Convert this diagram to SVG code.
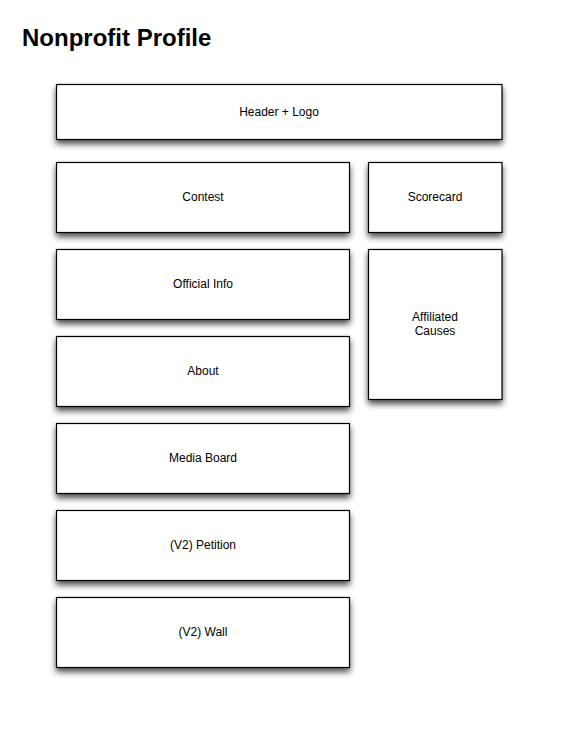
<svg xmlns="http://www.w3.org/2000/svg" width="576" height="733" viewBox="0 0 576 733">
<style>
.box{fill:#fff;stroke:#000;stroke-width:1.2}
.lbl{font-family:"Liberation Sans",Arial,sans-serif;font-size:12px;fill:#000;text-anchor:middle}
.title{font-family:"Liberation Sans",Arial,sans-serif;font-size:24px;font-weight:bold;fill:#000}
</style>
<defs>
<filter id="sh" x="-10%" y="-20%" width="125%" height="150%">
<feGaussianBlur in="SourceAlpha" stdDeviation="3"/>
<feOffset dx="0" dy="4" result="b"/>
<feComponentTransfer><feFuncA type="linear" slope="0.7"/></feComponentTransfer>
<feMerge><feMergeNode/><feMergeNode in="SourceGraphic"/></feMerge>
</filter>
</defs>
<rect width="576" height="733" fill="#fff"/>
<text class="title" x="22" y="46">Nonprofit Profile</text>
<g id="header"><rect class="box" x="56.5" y="84.5" width="445.5" height="55" filter="url(#sh)"/><text class="lbl" x="279" y="116">Header + Logo</text></g>
<g id="contest"><rect class="box" x="56.5" y="162.5" width="293" height="70" filter="url(#sh)"/><text class="lbl" x="203" y="201">Contest</text></g>
<g id="scorecard"><rect class="box" x="368.5" y="162.5" width="133.5" height="70" filter="url(#sh)"/><text class="lbl" x="435" y="201">Scorecard</text></g>
<g id="official-info"><rect class="box" x="56.5" y="249.5" width="293" height="70" filter="url(#sh)"/><text class="lbl" x="203" y="288">Official Info</text></g>
<g id="affiliated-causes"><rect class="box" x="368.5" y="249.5" width="133.5" height="150" filter="url(#sh)"/><text class="lbl" x="435" y="321">Affiliated</text><text class="lbl" x="435" y="335">Causes</text></g>
<g id="about"><rect class="box" x="56.5" y="336.5" width="293" height="70" filter="url(#sh)"/><text class="lbl" x="203" y="375">About</text></g>
<g id="media-board"><rect class="box" x="56.5" y="423.5" width="293" height="70" filter="url(#sh)"/><text class="lbl" x="203" y="462">Media Board</text></g>
<g id="petition"><rect class="box" x="56.5" y="510.5" width="293" height="70" filter="url(#sh)"/><text class="lbl" x="203" y="549">(V2) Petition</text></g>
<g id="wall"><rect class="box" x="56.5" y="597.5" width="293" height="70" filter="url(#sh)"/><text class="lbl" x="203" y="636">(V2) Wall</text></g>
<g id="connectors"/>
</svg>
